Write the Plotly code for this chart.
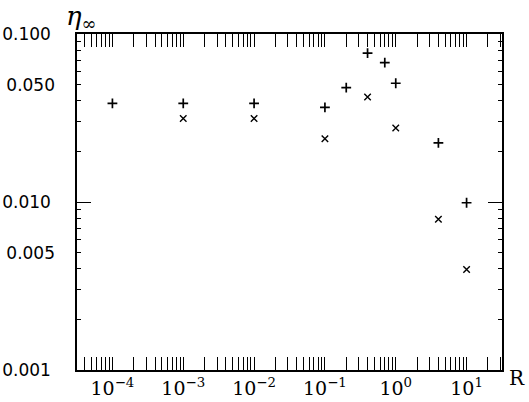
import plotly.graph_objects as go

# data
plus_x = [1e-4, 1e-3, 1e-2, 0.1, 0.2, 0.4, 0.7, 1.0, 4.0, 10.0]
plus_y = [0.0386, 0.0386, 0.0386, 0.0366, 0.048, 0.0769, 0.0676, 0.0509, 0.0225, 0.0099]
cross_x = [1e-3, 1e-2, 0.1, 0.4, 1.0, 4.0, 10.0]
cross_y = [0.0314, 0.0314, 0.0238, 0.0422, 0.0276, 0.0079, 0.00397]

# tick labels
x_major_vals = [1e-4, 1e-3, 1e-2, 1e-1, 1e0, 1e1]
x_major_text = ["10<sup>\u22124</sup>", "10<sup>\u22123</sup>", "10<sup>\u22122</sup>",
                "10<sup>\u22121</sup>", "10<sup>0</sup>", "10<sup>1</sup>"]
y_major_vals = [0.001, 0.01, 0.1]
y_major_text = ["0.001", "0.010", "0.100"]
y_extra_vals = [0.005, 0.05]
y_extra_text = ["0.005", "0.050"]

X_RANGE = [-4.5, 1.5]
Y_RANGE = [-3, -1]

fig = go.Figure()
fig.add_trace(go.Scatter(x=plus_x, y=plus_y, mode="markers",
                         marker=dict(symbol="cross-thin", size=7, color="black",
                                     line=dict(color="black", width=1.7))))
fig.add_trace(go.Scatter(x=cross_x, y=cross_y, mode="markers",
                         marker=dict(symbol="x-thin", size=6.5, color="black",
                                     line=dict(color="black", width=1.4))))
fig.add_trace(go.Scatter(x=[1e-3], y=[None], yaxis="y2", mode="markers",
                         showlegend=False, hoverinfo="skip"))

yfont = dict(family="DejaVu Sans", size=17, color="black")
xfont = dict(family="DejaVu Serif", size=19, color="black")
minor = dict(ticks="inside", ticklen=4, tickwidth=1, tickcolor="black",
             dtick="D1", showgrid=False)

fig.update_layout(
    width=529, height=402,
    margin=dict(l=77, r=27, t=34, b=32),
    paper_bgcolor="white", plot_bgcolor="white",
    showlegend=False,
    xaxis=dict(type="log", range=X_RANGE, automargin=False,
               showline=True, linecolor="black", linewidth=1.5, mirror="allticks",
               ticks="inside", ticklen=13, tickwidth=1.3, tickcolor="black",
               tickmode="array", tickvals=x_major_vals, ticktext=x_major_text,
               tickfont=xfont, showgrid=False, zeroline=False, minor=minor),
    yaxis=dict(type="log", range=Y_RANGE, automargin=False,
               showline=True, linecolor="black", linewidth=1.5, mirror="allticks",
               ticks="inside", ticklen=14, tickwidth=1.3, tickcolor="black",
               tickmode="array", tickvals=y_major_vals, ticktext=y_major_text,
               ticklabelstandoff=21, tickfont=yfont,
               showgrid=False, zeroline=False, minor=minor),
    yaxis2=dict(type="log", overlaying="y", side="left", range=Y_RANGE,
                automargin=False,
                tickmode="array", tickvals=y_extra_vals, ticktext=y_extra_text,
                ticks="", showline=False, showgrid=False, zeroline=False,
                ticklabelstandoff=21, tickfont=yfont),
    annotations=[
        dict(text="<i>\u03b7</i><sub>\u221e</sub>", xref="paper", yref="paper",
             x=0.01, y=1.05, xanchor="center", yanchor="middle", showarrow=False,
             font=dict(family="DejaVu Serif", size=26, color="black")),
        dict(text="R", xref="paper", yref="paper", x=1.012, y=-0.024,
             xanchor="left", yanchor="middle", showarrow=False,
             font=dict(family="DejaVu Serif", size=20, color="black")),
    ],
)

fig.write_html("out.html")
